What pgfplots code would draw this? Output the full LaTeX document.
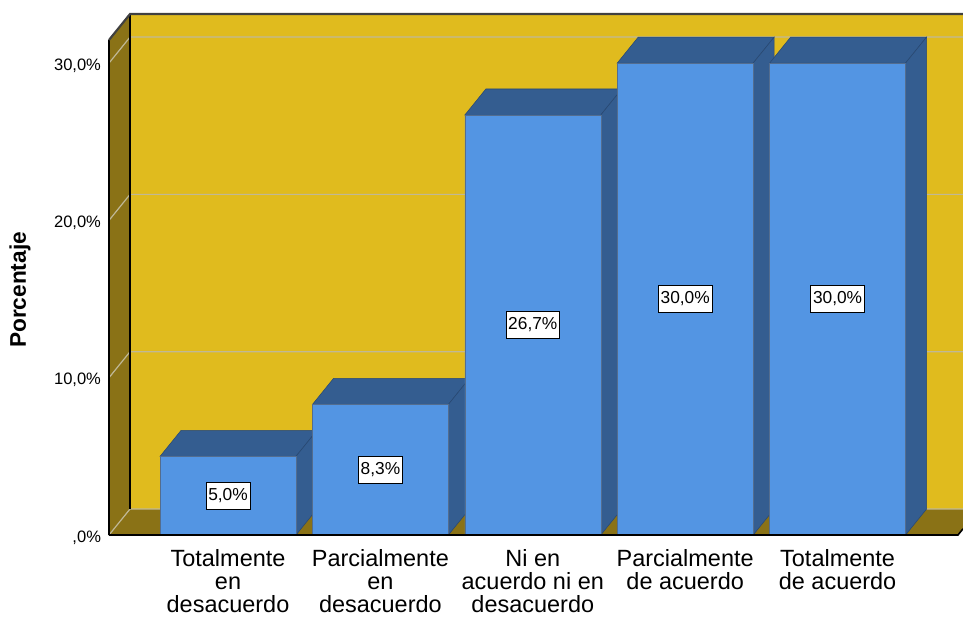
\documentclass[border=0pt]{standalone}
\usepackage{pgfplots}
\pgfplotsset{compat=1.18}
\usepackage{pgfplotstable}
\usepackage{fontspec}
\setmainfont{Liberation Sans}
\definecolor{wall}{RGB}{224,187,30}
\definecolor{olive}{RGB}{138,114,22}
\definecolor{barfront}{RGB}{83,149,227}
\definecolor{barside}{RGB}{52,93,144}
\definecolor{baredge}{RGB}{40,72,115}
\definecolor{gridc}{RGB}{192,184,150}
\pgfplotstableread{
x v
0 5.0
1 8.3
2 26.7
3 30.0
4 30.0
}\datatab
\begin{document}
\begin{tikzpicture}
\begin{axis}[
  scale only axis, width=640.5pt, height=401.25pt,
  xmin=-0.781, xmax=4.823, ymin=0, ymax=34.01,
  clip=false,
  axis line style={draw=none},
  major tick length=0pt,
  xtick={0,1,2,3,4},
  xticklabels={{Totalmente\\en\\desacuerdo},{Parcialmente\\en\\desacuerdo},{Ni en\\acuerdo ni en\\desacuerdo},{Parcialmente\\de acuerdo},{Totalmente\\de acuerdo}},
  xticklabel style={font=\fontsize{17.6}{17.4}\selectfont, align=center, anchor=north, yshift=-7.25pt},
  ytick={0,10,20,30},
  yticklabels={{,0\%},{10,0\%},{20,0\%},{30,0\%}},
  yticklabel style={font=\fontsize{12.4}{14}\selectfont, anchor=east, xshift=-2.5pt, yshift=-1.8pt},
  /pgf/number format/assume math mode=true,
  ylabel={Porcentaje},
  ylabel style={font=\fontsize{17}{20}\selectfont\bfseries, at={(rel axis cs:-0.1042,0.458)}, anchor=center},
]
% back wall
\addplot[fill=wall, draw=none] coordinates {(-0.643,1.653) (-0.643,33.12) (4.823,33.12) (4.823,1.653)} --cycle;
% left wall
\addplot[fill=olive, draw=none] coordinates {(-0.781,0) (-0.781,31.47) (-0.643,33.12) (-0.643,1.653)} --cycle;
% floor
\addplot[fill=olive, draw=none] coordinates {(-0.781,0) (4.79,0) (4.823,0.395) (4.823,1.653) (-0.643,1.653)} --cycle;
% grid lines
\addplot[gridc, line width=0.9pt] coordinates {(-0.781,0) (-0.643,1.653) (4.823,1.653)};
\addplot[gridc, line width=0.9pt] coordinates {(-0.781,10) (-0.643,11.653) (4.823,11.653)};
\addplot[gridc, line width=0.9pt] coordinates {(-0.781,20) (-0.643,21.653) (4.823,21.653)};
\addplot[gridc, line width=0.9pt] coordinates {(-0.781,30) (-0.643,31.653) (4.823,31.653)};
% edges
\addplot[black, line width=0.9pt] coordinates {(-0.781,0) (-0.781,31.47)};
\addplot[black, line width=0.9pt] coordinates {(-0.643,1.653) (-0.643,33.12)};
\addplot[black!75, line width=1.6pt] coordinates {(-0.781,31.47) (-0.643,33.12) (4.823,33.12)};
\addplot[black, line width=1.2pt] coordinates {(-0.781,0) (4.79,0) (4.823,0.395)};
% bar tops and sides
\addplot[fill=barside, draw=baredge, line width=0.4pt] coordinates {(-0.446,5) (-0.308,6.653) (0.584,6.653) (0.446,5)} --cycle;
\addplot[fill=barside, draw=baredge, line width=0.4pt] coordinates {(0.446,0) (0.446,5) (0.584,6.653) (0.584,1.653)} --cycle;
\addplot[fill=barside, draw=baredge, line width=0.4pt] coordinates {(0.554,8.3) (0.692,9.953) (1.584,9.953) (1.446,8.3)} --cycle;
\addplot[fill=barside, draw=baredge, line width=0.4pt] coordinates {(1.446,0) (1.446,8.3) (1.584,9.953) (1.584,1.653)} --cycle;
\addplot[fill=barside, draw=baredge, line width=0.4pt] coordinates {(1.554,26.7) (1.692,28.353) (2.584,28.353) (2.446,26.7)} --cycle;
\addplot[fill=barside, draw=baredge, line width=0.4pt] coordinates {(2.446,0) (2.446,26.7) (2.584,28.353) (2.584,1.653)} --cycle;
\addplot[fill=barside, draw=baredge, line width=0.4pt] coordinates {(2.554,30) (2.692,31.653) (3.584,31.653) (3.446,30)} --cycle;
\addplot[fill=barside, draw=baredge, line width=0.4pt] coordinates {(3.446,0) (3.446,30) (3.584,31.653) (3.584,1.653)} --cycle;
\addplot[fill=barside, draw=baredge, line width=0.4pt] coordinates {(3.554,30) (3.692,31.653) (4.584,31.653) (4.446,30)} --cycle;
\addplot[fill=barside, draw=baredge, line width=0.4pt] coordinates {(4.446,0) (4.446,30) (4.584,31.653) (4.584,1.653)} --cycle;
% bar fronts
\addplot[ybar, bar width=0.892, fill=barfront, draw=baredge!80, line width=0.4pt] table[x=x, y=v] {\datatab};
% value labels
\addplot[draw=none, mark=none, point meta=explicit,
  nodes near coords={\pgfmathprintnumber[fixed,fixed zerofill,precision=1,use comma]{\pgfplotspointmeta}\%},
  nodes near coords align=center,
  every node near coord/.append style={fill=white, draw=black, line width=0.6pt, inner xsep=1.6pt, inner ysep=4.6pt, font=\fontsize{13}{14}\selectfont, text=black}
] table[x=x, y expr=\thisrow{v}/2, meta=v] {\datatab};
% bottom black line redraw over bars
\addplot[black, line width=1.2pt] coordinates {(-0.781,0) (4.79,0)};
\coordinate (BL) at (rel axis cs:0,0);
\coordinate (TR) at (rel axis cs:1,1);
\end{axis}
\pgfresetboundingbox
\path[use as bounding box] ([xshift=-81.75pt,yshift=-60.75pt]BL) rectangle (TR);
\end{tikzpicture}
\end{document}
